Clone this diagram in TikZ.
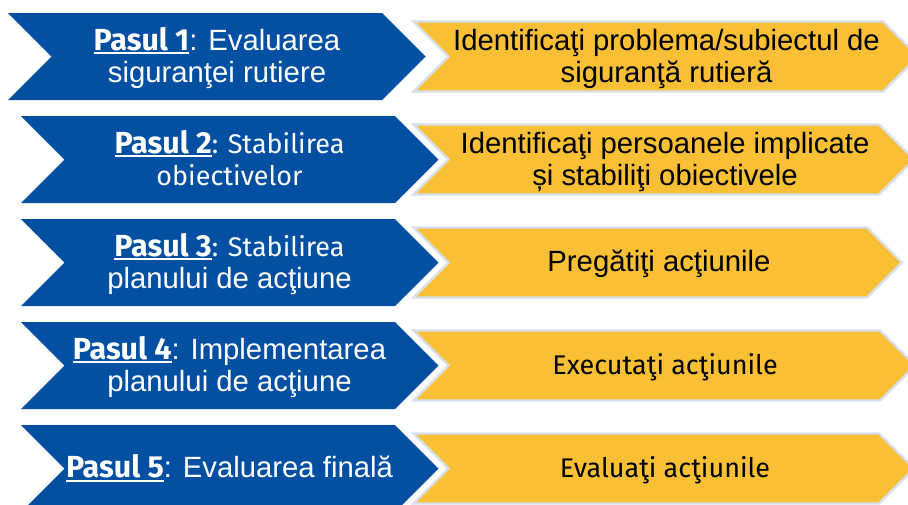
\documentclass[tikz,border=0pt]{standalone}
\usepackage{fontspec}
\setmainfont{Liberation Sans}
\newfontfamily\ecfont[Scale=0.92]{Fira Sans}
\newfontfamily\ecbold[Scale=1.04]{Fira Sans}
\definecolor{ecblue}{RGB}{3,79,162}
\definecolor{ecyellow}{RGB}{249,192,54}
\definecolor{ecedge}{RGB}{214,223,236}
\newcommand\pasulline[1]{\setbox0\hbox{#1}\rlap{\rule[-4pt]{\wd0}{2pt}}\box0}
\newcommand\pasul[1]{{\ecbold\bfseries\pasulline{Pasul #1}}}
\begin{document}
\begin{tikzpicture}[x=1pt,y=-1pt,
  txt/.style={font=\fontsize{29.3}{32}\selectfont, align=center, inner sep=0pt, anchor=base},
  bluetxt/.style={txt,text=white},
  yeltxt/.style={txt,text=black},
  bluechev/.style={fill=ecblue},
  yelchev/.style={fill=ecyellow,draw=ecedge,line width=2.2pt,line join=miter}]
\clip (0,0) rectangle (908,504);
\fill[white] (0,0) rectangle (908,504);
% blue chevrons
\foreach \i/\L/\R in {1/8/382,2/21/395,3/21/395,4/21/395,5/21/395}{
  \pgfmathsetmacro\c{56.5+103*(\i-1)}
  \fill[bluechev] (\L,{\c-43.5}) -- (\R,{\c-43.5}) -- ({\R+43.5},\c) -- (\R,{\c+43.5})
     -- (\L,{\c+43.5}) -- ({\L+43.5},\c) -- cycle;
}
% yellow chevrons
\foreach \i/\R in {1/883,2/879,3/867,4/880,5/879}{
  \pgfmathsetmacro\c{56.5+103*(\i-1)}
  \draw[yelchev] (413.5,{\c-35}) -- (\R,{\c-35}) -- ({\R+35},\c) -- (\R,{\c+35})
     -- (413.5,{\c+35}) -- (448.5,\c) -- cycle;
}
% left texts (anchor = baseline of the last line)
\node[bluetxt] (s1) at (217,82) {\pasul{1}: Evaluarea\\siguranţei rutiere};
\node[bluetxt] (s2) at (229.5,185) {\pasul{2}{\ecfont: Stabilirea}\\{\ecfont obiectivelor}};
\node[bluetxt] (s3) at (229.5,288) {\pasul{3}{\ecfont: Stabilirea}\\planului de acţiune};
\node[bluetxt] (s4) at (229.5,391) {\pasul{4}: Implementarea\\planului de acţiune};
\node[bluetxt] (s5) at (229.5,477.5) {\pasul{5}: Evaluarea finală};
% right texts
\node[yeltxt] (a1) at (666.5,82) {Identificaţi problema/subiectul de\\siguranţă rutieră};
\node[yeltxt] (a2) at (665,185) {Identificaţi persoanele implicate\\și stabiliţi obiectivele};
\node[yeltxt] (a3) at (659,271) {Pregătiţi acţiunile};
\node[yeltxt] (a4) at (665,374) {\ecfont Executaţi acţiunile};
\node[yeltxt] (a5) at (665,477) {\ecfont Evaluaţi acţiunile};
\end{tikzpicture}
\end{document}
